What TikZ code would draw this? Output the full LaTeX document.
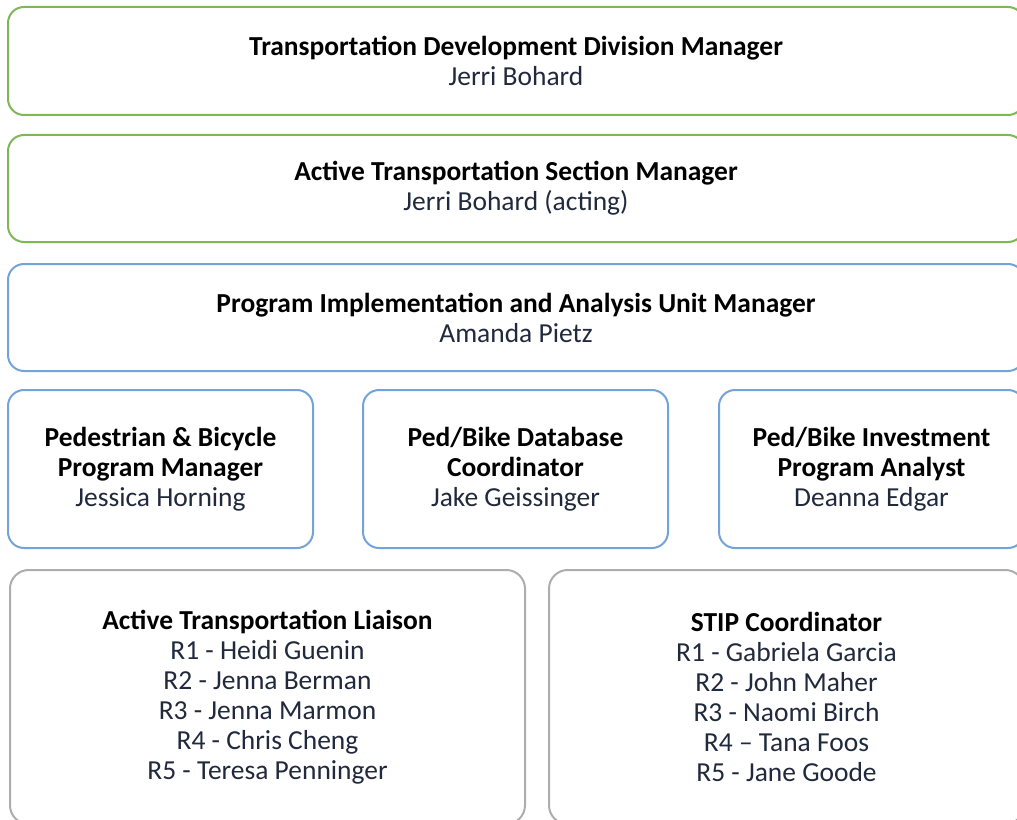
\documentclass[tikz,border=0pt]{standalone}
\usepackage{fontspec}
\setmainfont{Carlito}
\usepackage{tikz}
\usetikzlibrary{positioning}
\definecolor{boxgreen}{rgb}{0.49,0.72,0.33}
\definecolor{boxblue}{rgb}{0.45,0.64,0.85}
\definecolor{boxgray}{rgb}{0.68,0.68,0.68}
\definecolor{namecol}{rgb}{0.13,0.16,0.24}
\tikzstyle{gb}=[%
      rectangle, rounded corners=12, draw=boxgreen, line width=1.5pt, fill=white,
      align=center, inner sep=0pt, font=\fontsize{20.6}{22.5}\selectfont
]
\tikzstyle{bb}=[%
      rectangle, rounded corners=12, draw=boxblue, line width=1.5pt, fill=white,
      align=center, inner sep=0pt, font=\fontsize{20.6}{22.5}\selectfont
]
\tikzstyle{gr}=[%
      rectangle, rounded corners=14, draw=boxgray, line width=1.5pt, fill=white,
      align=center, inner sep=0pt, font=\fontsize{20.6}{22.5}\selectfont
]
\newcommand{\ttl}[1]{\textbf{#1}}
\newcommand{\nm}[1]{\textcolor{namecol}{#1}}
\begin{document}
\begin{tikzpicture}[x=0.75pt,y=-0.75pt]
    \useasboundingbox (0,0) rectangle (1017,820);
    \clip (0,0) rectangle (1017,820);

    \node[gb, minimum width=1016*0.75pt, minimum height=108*0.75pt] (div) at (516,61)
        {\ttl{Transportation Development Division Manager}\\ \nm{Jerri Bohard}};
    \node[gb, minimum width=1016*0.75pt, minimum height=107*0.75pt] (sec) at (516,188.5)
        {\ttl{Active Transportation Section Manager}\\ \nm{Jerri Bohard (acting)}};
    \node[bb, minimum width=1016*0.75pt, minimum height=107*0.75pt] (unit) at (516,317.5)
        {\ttl{Program Implementation and Analysis Unit Manager}\\ \nm{Amanda Pietz}};

    \node[bb, minimum width=305*0.75pt, minimum height=158*0.75pt] (ped) at (160.5,469)
        {\ttl{Pedestrian \& Bicycle}\\ \ttl{Program Manager}\\ \nm{Jessica Horning}};
    \node[bb, minimum width=305*0.75pt, minimum height=158*0.75pt] (dbase) at (515.5,469)
        {\ttl{Ped/Bike Database}\\ \ttl{Coordinator}\\ \nm{Jake Geissinger}};
    \node[bb, minimum width=305*0.75pt, minimum height=158*0.75pt] (invest) at (871.5,469)
        {\ttl{Ped/Bike Investment}\\ \ttl{Program Analyst}\\ \nm{Deanna Edgar}};

    \node[gr, minimum width=515*0.75pt, minimum height=254*0.75pt] (liaison) at (267.5,697)
        {\ttl{Active Transportation Liaison}\\ \nm{R1 - Heidi Guenin}\\ \nm{R2 - Jenna Berman}\\
         \nm{R3 - Jenna Marmon}\\ \nm{R4 - Chris Cheng}\\ \nm{R5 - Teresa Penninger}};
    \node[gr, minimum width=475*0.75pt, minimum height=254*0.75pt] (stip) at (786.5,697)
        {\ttl{STIP Coordinator}\\ \nm{R1 - Gabriela Garcia}\\ \nm{R2 - John Maher}\\
         \nm{R3 - Naomi Birch}\\ \nm{R4 -- Tana Foos}\\ \nm{R5 - Jane Goode}};
\end{tikzpicture}
\end{document}
